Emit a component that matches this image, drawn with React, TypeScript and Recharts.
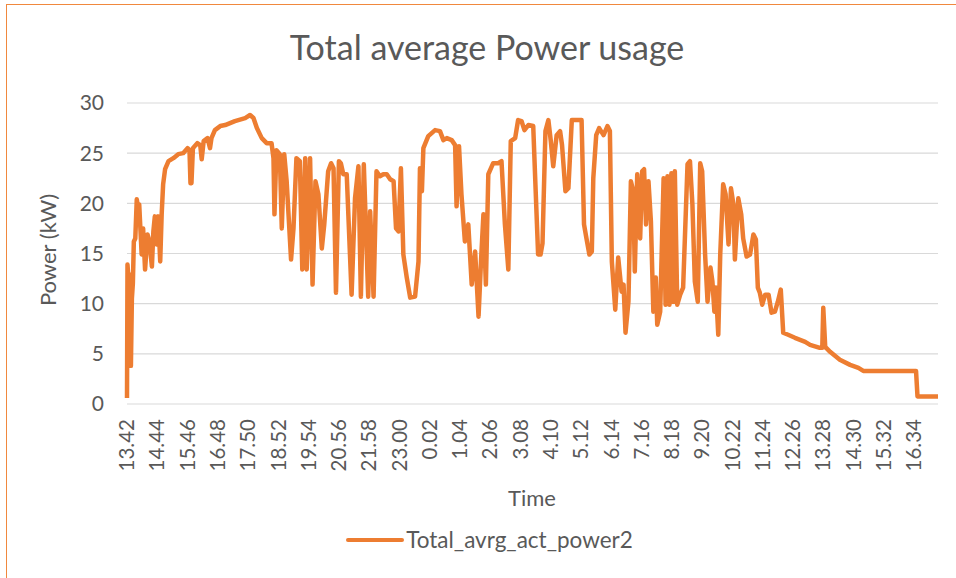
import React from "react";
import {
  LineChart,
  Line,
  XAxis,
  YAxis,
  CartesianGrid,
  Legend,
} from "recharts";

// minutes since 13.42 on day one
const minutes = [
  0, 1, 3, 6, 8, 10, 12, 14, 17, 20, 23, 25, 30, 33, 37, 42, 46, 51, 54, 57,
  61, 64, 68, 71, 74, 78, 85, 95, 105, 115, 124, 128, 130, 132, 135, 144, 150,
  153, 157, 165, 170, 173, 180, 191, 201, 211, 221, 242, 252, 259, 266, 276,
  286, 296, 300, 302, 306, 313, 317, 322, 327, 336, 341, 347, 354, 359, 365,
  368, 375, 380, 386, 392, 399, 404, 412, 418, 423, 428, 434, 438, 443, 450,
  460, 467, 474, 479, 485, 494, 498, 505, 511, 518, 525, 532, 539, 546, 551,
  556, 561, 566, 573, 580, 590, 597, 600, 604, 607, 617, 631, 641, 648, 655,
  665, 672, 675, 680, 685, 692, 699, 706, 713, 720, 725, 730, 735, 740, 750,
  760, 767, 774, 781, 786, 795, 801, 808, 814, 822, 832, 836, 842, 847, 851,
  857, 863, 868, 873, 880, 887, 891, 898, 904, 911, 921, 931, 936, 941, 947,
  952, 955, 961, 967, 976, 984, 989, 993, 1000, 1006, 1013, 1017, 1021, 1027,
  1032, 1037, 1040, 1045, 1051, 1055, 1059, 1063, 1068, 1073, 1078, 1083,
  1086, 1092, 1099, 1103, 1107, 1111, 1115, 1119, 1122, 1127, 1133, 1139,
  1148, 1153, 1158, 1163, 1169, 1174, 1178, 1184, 1189, 1195, 1199, 1203,
  1206, 1211, 1215, 1221, 1226, 1232, 1237, 1242, 1245, 1252, 1258, 1262,
  1269, 1276, 1283, 1288, 1292, 1296, 1301, 1307, 1314, 1320, 1327, 1333,
  1339, 1344, 1354, 1368, 1389, 1399, 1419, 1424, 1426, 1430, 1440, 1460,
  1481, 1498, 1508, 1549, 1583, 1616, 1619, 1661,
];

const power = [
  0.6, 13.9, 12.5, 12.9, 3.8, 10.5, 12.0, 16.2, 16.5, 20.4, 19.5, 19.9, 14.9,
  17.5, 13.4, 16.9, 16.2, 13.7, 17.2, 18.7, 15.9, 18.7, 14.2, 18.9, 21.9, 23.4,
  24.2, 24.5, 24.9, 25.0, 25.5, 25.3, 22.0, 22.0, 25.5, 26.0, 25.8, 24.4, 26.2,
  26.5, 25.5, 26.5, 27.3, 27.7, 27.8, 28.0, 28.2, 28.5, 28.8, 28.5, 27.5, 26.5,
  26.0, 26.0, 24.5, 18.9, 25.3, 24.9, 17.5, 24.9, 22.2, 14.4, 17.5, 24.5, 24.2,
  13.4, 24.5, 13.4, 24.5, 11.9, 22.2, 20.9, 15.5, 17.9, 23.2, 24.0, 23.5, 11.1,
  24.2, 24.0, 22.9, 22.9, 10.9, 20.5, 23.7, 10.7, 23.9, 10.7, 19.2, 10.7, 23.2,
  22.7, 22.9, 22.9, 22.4, 22.2, 17.5, 17.2, 23.5, 14.9, 12.6, 10.6, 10.7, 14.2,
  23.5, 21.2, 25.5, 26.7, 27.3, 27.2, 26.3, 26.5, 26.3, 25.8, 19.7, 25.7, 20.9,
  16.2, 17.9, 11.9, 15.2, 8.7, 14.2, 18.9, 11.9, 22.9, 24.0, 24.0, 24.2, 17.9,
  13.4, 26.2, 26.5, 28.3, 28.2, 27.3, 27.8, 27.7, 22.5, 14.9, 14.9, 16.0, 27.2,
  28.3, 26.2, 23.7, 26.8, 27.2, 25.8, 21.2, 21.5, 28.3, 28.3, 28.3, 17.9, 16.5,
  14.9, 15.2, 22.5, 26.8, 27.5, 26.8, 27.7, 27.2, 14.2, 9.4, 14.6, 11.2, 11.9,
  7.1, 10.2, 22.2, 21.2, 13.2, 22.9, 16.5, 23.2, 23.4, 17.9, 22.2, 18.2, 9.2,
  12.6, 7.9, 9.2, 22.5, 9.9, 22.7, 9.9, 23.0, 10.2, 23.2, 9.9, 10.9, 11.6,
  23.9, 24.2, 19.9, 12.2, 10.2, 24.0, 23.2, 14.9, 10.2, 13.6, 12.2, 9.2, 11.6,
  6.9, 14.9, 21.9, 20.9, 15.9, 21.5, 19.9, 14.4, 20.5, 18.9, 16.5, 14.7, 14.9,
  16.9, 16.4, 11.6, 11.1, 9.9, 10.9, 10.9, 9.1, 9.2, 10.2, 11.4, 7.1, 6.9, 6.6,
  6.2, 5.9, 5.6, 5.6, 9.6, 5.7, 5.2, 4.4, 3.9, 3.6, 3.3, 3.3, 3.3, 3.3, 0.76,
  0.76,
];

const timeLabels = [
  "13.42", "14.44", "15.46", "16.48", "17.50", "18.52", "19.54", "20.56",
  "21.58", "23.00", "0.02", "1.04", "2.06", "3.08", "4.10", "5.12", "6.14",
  "7.16", "8.18", "9.20", "10.22", "11.24", "12.26", "13.28", "14.30",
  "15.32", "16.34",
];
const LABEL_STEP = 62; // minutes between shown labels
const LAST_MINUTE = 1661;

const yTicks = [0, 5, 10, 15, 20, 25, 30];

const SERIES = "Total_avrg_act_power2";
const ORANGE = "#ED7D31";
const TEXT = "#595959";
const FONT = "Lato, 'Open Sans', sans-serif";

const data = minutes.map((m, i) => ({ t: m, power: power[i] }));
const xTicks = timeLabels.map((_, i) => i * LABEL_STEP);

function TimeTick(props: any) {
  const { x, y, payload } = props;
  const label = timeLabels[Math.round(payload.value / LABEL_STEP)];
  const ty = y + 7;
  return (
    <text
      x={x}
      y={ty}
      transform={`rotate(-90, ${x}, ${ty})`}
      textAnchor="end"
      dy="0.35em"
      fill={TEXT}
      fontSize={20.5}
      fontFamily={FONT}
    >
      {label}
    </text>
  );
}

function LegendBox() {
  return (
    <div
      style={{
        display: "flex",
        alignItems: "center",
        justifyContent: "center",
        fontFamily: FONT,
        fontSize: 22.5,
        color: TEXT,
      }}
    >
      <svg width={58} height={8} style={{ marginRight: 2 }}>
        <line
          x1={2}
          y1={4}
          x2={56}
          y2={4}
          stroke={ORANGE}
          strokeWidth={4}
          strokeLinecap="round"
        />
      </svg>
      <span>{SERIES}</span>
    </div>
  );
}

export default function App() {
  return (
    <div
      style={{
        position: "absolute",
        left: 0,
        top: 0,
        width: 956,
        height: 578,
        overflow: "hidden",
        background: "#fff",
      }}
    >
      <div
        style={{
          position: "absolute",
          left: 6,
          top: 4,
          width: 1000,
          height: 600,
          borderLeft: "1.5px solid #F0883E",
          borderTop: "1.5px solid #F0883E",
        }}
      />
      <div
        style={{
          position: "absolute",
          left: 0,
          top: 30,
          width: 974,
          textAlign: "center",
          fontFamily: FONT,
          fontSize: 34,
          lineHeight: "34px",
          color: TEXT,
        }}
      >
        Total average Power usage
      </div>
      <div
        style={{
          position: "absolute",
          left: 48 - 80,
          top: 250 - 14,
          width: 160,
          height: 28,
          lineHeight: "28px",
          textAlign: "center",
          transform: "rotate(-90deg)",
          fontFamily: FONT,
          fontSize: 22,
          color: TEXT,
        }}
      >
        Power (kW)
      </div>
      <div
        style={{
          position: "absolute",
          left: 532 - 60,
          top: 484,
          width: 120,
          lineHeight: "28px",
          textAlign: "center",
          fontFamily: FONT,
          fontSize: 22,
          color: TEXT,
        }}
      >
        Time
      </div>
      <LineChart
        width={956}
        height={578}
        data={data}
        margin={{ top: 103, right: 18, bottom: 0, left: 0 }}
        style={{ position: "absolute", left: 0, top: 0 }}
      >
        <CartesianGrid vertical={false} stroke="#D9D9D9" strokeWidth={1.2} />
        <XAxis
          dataKey="t"
          type="number"
          domain={[0, LAST_MINUTE]}
          ticks={xTicks}
          interval={0}
          height={174}
          axisLine={false}
          tickLine={false}
          tick={<TimeTick />}
        />
        <YAxis
          domain={[0, 30]}
          ticks={yTicks}
          width={127}
          axisLine={false}
          tickLine={false}
          tickMargin={17}
          tick={{ fill: TEXT, fontSize: 21, fontFamily: FONT }}
        />
        <Legend
          verticalAlign="middle"
          align="center"
          layout="horizontal"
          content={<LegendBox />}
          wrapperStyle={{ top: 526, left: 0, width: 979 }}
        />
        <Line
          type="linear"
          dataKey="power"
          name={SERIES}
          stroke={ORANGE}
          strokeWidth={4.5}
          strokeLinejoin="round"
          dot={false}
          isAnimationActive={false}
        />
      </LineChart>
    </div>
  );
}
